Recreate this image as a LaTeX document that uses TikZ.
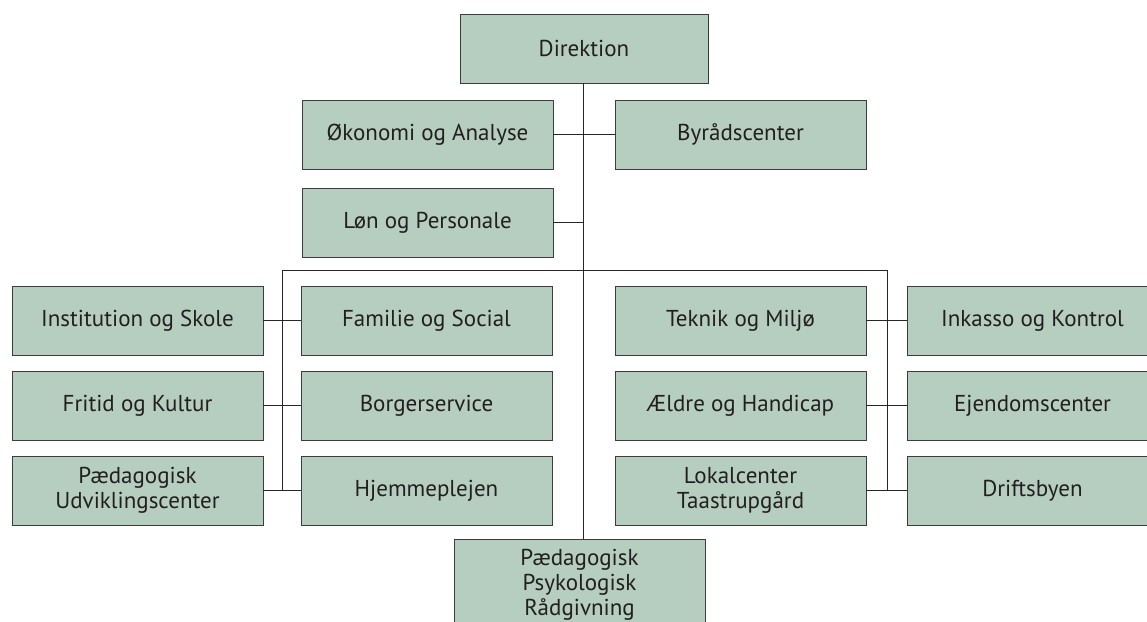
\documentclass[tikz,border=0pt]{standalone}
\usepackage{fontspec}
\setmainfont{PT Sans}
\definecolor{boxfill}{RGB}{181,206,192}
\definecolor{boxline}{RGB}{60,60,60}
\definecolor{txt}{RGB}{35,31,32}
\begin{document}
\begin{tikzpicture}[x=1pt,y=-1pt,
  box/.style={draw=boxline, fill=boxfill, line width=0.9pt, minimum width=251pt,
    minimum height=69pt, inner sep=0pt, align=center,
    font=\fontsize{23}{25}\selectfont, text=txt},
  conn/.style={draw=black!85, line width=0.9pt}]
\clip (0,0) rectangle (1147,621);
\fill[white] (0,0) rectangle (1147,621);
% nodes
\node[box, minimum width=248pt] (dir) at (584,48.5) {Direktion};
\node[box] (oek) at (427.5,134.5) {Økonomi og Analyse};
\node[box] (byr) at (740.5,134.5) {Byrådscenter};
\node[box] (loen) at (427.5,222.5) {Løn og Personale};
\node[box] (inst) at (137.5,320.5) {Institution og Skole};
\node[box] (fam) at (426.5,320.5) {Familie og Social};
\node[box] (fri) at (137.5,405.5) {Fritid og Kultur};
\node[box] (borg) at (426.5,405.5) {Borgerservice};
\node[box] (pud) at (137.5,490.5) {Pædagogisk\\Udviklingscenter};
\node[box] (hjem) at (426.5,490.5) {Hjemmeplejen};
\node[box] (tek) at (740.5,320.5) {Teknik og Miljø};
\node[box] (ink) at (1032.5,320.5) {Inkasso og Kontrol};
\node[box] (aeld) at (740.5,405.5) {Ældre og Handicap};
\node[box] (ejd) at (1032.5,405.5) {Ejendomscenter};
\node[box] (lok) at (740.5,490.5) {Lokalcenter\\Taastrupgård};
\node[box] (drf) at (1032.5,490.5) {Driftsbyen};
\node[box, minimum height=92pt] (ppr) at (579.5,585) {Pædagogisk\\Psykologisk\\Rådgivning};
% bus coordinates
\coordinate (top) at (583,0);
\coordinate (busL) at (282,270);
\coordinate (busR) at (887,270);
% connectors
\draw[conn] (top |- dir.south) -- (top |- ppr.north);
\draw[conn] (oek.east) -- (byr.west);
\draw[conn] (loen.east) -- (top |- loen.east);
\draw[conn] (busL |- pud.east) -- (busL) -- (busR) -- (busR |- drf.west);
\draw[conn] (inst.east) -- (fam.west);
\draw[conn] (fri.east) -- (borg.west);
\draw[conn] (pud.east) -- (hjem.west);
\draw[conn] (tek.east) -- (ink.west);
\draw[conn] (aeld.east) -- (ejd.west);
\draw[conn] (lok.east) -- (drf.west);
\end{tikzpicture}
\end{document}
